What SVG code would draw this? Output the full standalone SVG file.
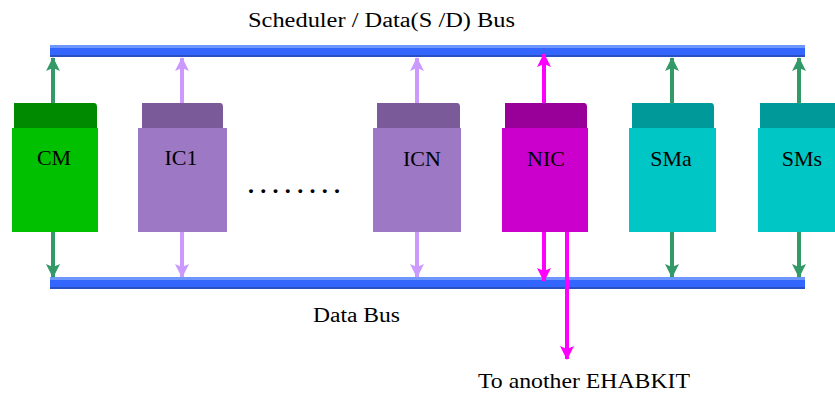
<svg xmlns="http://www.w3.org/2000/svg" width="835" height="394" viewBox="0 0 835 394">
  <style>
    .lbl { font-family: "Liberation Serif", "DejaVu Serif", serif; fill: #000; }
    .box-lbl { font-size: 22px; text-anchor: middle; }
    .bus { fill: #3366ff; }
    .bus-hi { fill: #6f95ff; }
    .bus-lo { fill: #2a4fc4; }
    .a-green { stroke: #339966; stroke-width: 4; fill: none; }
    .a-lav { stroke: #cc99ff; stroke-width: 4; fill: none; }
    .a-mag { stroke: #ff00ff; stroke-width: 4; fill: none; }
  </style>
  <defs>
    <marker id="m-green" viewBox="0 0 14 14" refX="13" refY="7" markerWidth="15" markerHeight="14" markerUnits="userSpaceOnUse" orient="auto">
      <path d="M0,0 L14,7 L0,14 L3,7 z" fill="#339966"/>
    </marker>
    <marker id="m-lav" viewBox="0 0 14 14" refX="13" refY="7" markerWidth="15" markerHeight="14" markerUnits="userSpaceOnUse" orient="auto">
      <path d="M0,0 L14,7 L0,14 L3,7 z" fill="#cc99ff"/>
    </marker>
    <marker id="m-mag" viewBox="0 0 14 14" refX="13" refY="7" markerWidth="15" markerHeight="14" markerUnits="userSpaceOnUse" orient="auto">
      <path d="M0,0 L14,7 L0,14 L3,7 z" fill="#ff00ff"/>
    </marker>
  </defs>

  <rect width="835" height="394" fill="#ffffff"/>

  <!-- buses -->
  <g id="sd-bus">
    <rect class="bus" x="50" y="45" width="755" height="12" rx="2"/>
    <rect class="bus-hi" x="50" y="45" width="755" height="3"/>
    <rect class="bus-lo" x="50" y="55" width="755" height="2"/>
  </g>
  <g id="data-bus">
    <rect class="bus" x="50" y="277" width="755" height="12" rx="2"/>
    <rect class="bus-hi" x="50" y="277" width="755" height="3"/>
    <rect class="bus-lo" x="50" y="287" width="755" height="2"/>
  </g>

  <!-- connectors -->
  <g id="connectors">
    <line class="a-green" x1="53" y1="104" x2="53" y2="58" marker-end="url(#m-green)"/>
    <line class="a-green" x1="53" y1="232" x2="53" y2="277" marker-end="url(#m-green)"/>
    <line class="a-lav" x1="182" y1="104" x2="182" y2="58" marker-end="url(#m-lav)"/>
    <line class="a-lav" x1="182" y1="232" x2="182" y2="277" marker-end="url(#m-lav)"/>
    <line class="a-lav" x1="417" y1="104" x2="417" y2="58" marker-end="url(#m-lav)"/>
    <line class="a-lav" x1="417" y1="232" x2="417" y2="277" marker-end="url(#m-lav)"/>
    <line class="a-mag" x1="544" y1="104" x2="544" y2="54" marker-end="url(#m-mag)"/>
    <line class="a-mag" x1="544" y1="232" x2="544" y2="281" marker-end="url(#m-mag)"/>
    <line class="a-mag" x1="567" y1="232" x2="567" y2="359" marker-end="url(#m-mag)"/>
    <line class="a-green" x1="672" y1="104" x2="672" y2="58" marker-end="url(#m-green)"/>
    <line class="a-green" x1="672" y1="232" x2="672" y2="277" marker-end="url(#m-green)"/>
    <line class="a-green" x1="799" y1="104" x2="799" y2="58" marker-end="url(#m-green)"/>
    <line class="a-green" x1="799" y1="232" x2="799" y2="277" marker-end="url(#m-green)"/>
  </g>

  <!-- modules: header tab + body -->
  <g id="cm">
    <path d="M14,103 H94 Q97,103 97,107 V128 H14 Z" fill="#008a00"/>
    <rect x="12" y="128" width="86" height="104" fill="#00c000"/>
    <text class="lbl box-lbl" x="54" y="165">CM</text>
  </g>
  <g id="ic1">
    <path d="M142,103 H220 Q223,103 223,107 V128 H142 Z" fill="#7a5a98"/>
    <rect x="138" y="128" width="89" height="104" fill="#9d78c4"/>
    <text class="lbl box-lbl" x="181" y="165">IC1</text>
  </g>
  <g id="icn">
    <path d="M377,103 H457 Q460,103 460,107 V128 H377 Z" fill="#7a5a98"/>
    <rect x="373" y="128" width="88" height="104" fill="#9d78c4"/>
    <text class="lbl box-lbl" x="422" y="166">ICN</text>
  </g>
  <g id="nic">
    <path d="M505,103 H584 Q587,103 587,107 V128 H505 Z" fill="#990099"/>
    <rect x="502" y="128" width="86" height="104" fill="#cc00cc"/>
    <text class="lbl box-lbl" x="546" y="166">NIC</text>
  </g>
  <g id="sma">
    <path d="M632,103 H711 Q714,103 714,107 V128 H632 Z" fill="#009999"/>
    <rect x="629" y="128" width="87" height="104" fill="#00c6c6"/>
    <text class="lbl box-lbl" x="671" y="166">SMa</text>
  </g>
  <g id="sms">
    <path d="M760,103 H835 V128 H760 Z" fill="#009999"/>
    <rect x="758" y="128" width="77" height="104" fill="#00c6c6"/>
    <text class="lbl box-lbl" x="802" y="166">SMs</text>
  </g>

  <!-- labels -->
  <text class="lbl" x="248" y="27" font-size="20" textLength="267" lengthAdjust="spacingAndGlyphs">Scheduler / Data(S /D)  Bus</text>
  <text class="lbl" x="313" y="322" font-size="20" textLength="87" lengthAdjust="spacingAndGlyphs">Data Bus</text>
  <text class="lbl" x="478" y="388" font-size="21" textLength="212" lengthAdjust="spacingAndGlyphs">To another EHABKIT</text>
  <text class="lbl" x="248" y="193" font-size="24" font-weight="bold" textLength="92" lengthAdjust="spacing">........</text>
</svg>
